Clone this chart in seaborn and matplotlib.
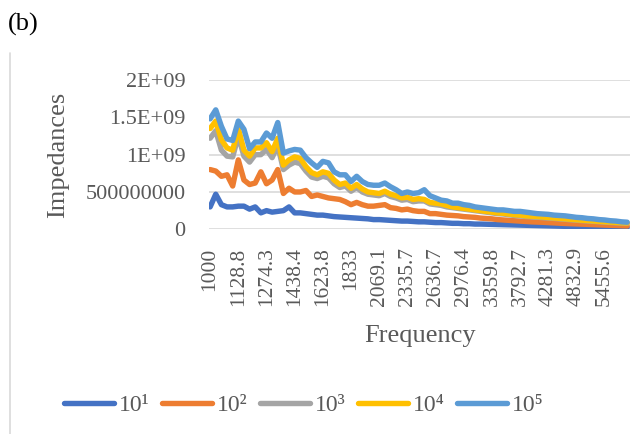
import numpy as np
import pandas as pd
import matplotlib
matplotlib.use("Agg")
import matplotlib.pyplot as plt
from matplotlib.lines import Line2D
import seaborn as sns

# ---- data ----
frequencies = [1000, 1024.5, 1049.7, 1075.4, 1101.8, 1128.8, 1156.5, 1184.9, 1214, 1243.8,
               1274.3, 1305.5, 1337.6, 1370.4, 1404, 1438.4, 1473.7, 1509.9, 1546.9, 1584.9,
               1623.8, 1663.6, 1704.4, 1746.3, 1789.1, 1833, 1878, 1924, 1971.2, 2019.6,
               2069.1, 2119.9, 2171.9, 2225.2, 2279.8, 2335.7, 2393, 2451.7, 2511.9, 2573.5,
               2636.7, 2701.3, 2767.6, 2835.5, 2905.1, 2976.4, 3049.4, 3124.2, 3200.9, 3279.4,
               3359.8, 3442.3, 3526.7, 3613.2, 3701.9, 3792.7, 3885.7, 3981.1, 4078.7, 4178.8,
               4281.3, 4386.4, 4494, 4604.3, 4717.3, 4832.9, 4951.5, 5073, 5197.5, 5325,
               5455.6, 5589.4, 5726.5, 5867, 6010.9]

# impedances in units of 1e9
z_1e1 = [0.30, 0.47, 0.33, 0.30, 0.30, 0.31, 0.31, 0.27, 0.30, 0.22,
         0.25, 0.23, 0.24, 0.25, 0.30, 0.22, 0.22, 0.21, 0.20, 0.19,
         0.19, 0.18, 0.17, 0.165, 0.16, 0.155, 0.15, 0.145, 0.14, 0.13,
         0.13, 0.125, 0.12, 0.115, 0.11, 0.11, 0.105, 0.10, 0.10, 0.095,
         0.09, 0.09, 0.085, 0.08, 0.08, 0.075, 0.075, 0.07, 0.07, 0.068,
         0.066, 0.064, 0.062, 0.06, 0.058, 0.056, 0.054, 0.052, 0.05, 0.048,
         0.046, 0.044, 0.042, 0.04, 0.038, 0.036, 0.034, 0.032, 0.031, 0.03,
         0.029, 0.028, 0.027, 0.026, 0.025]
z_1e2 = [0.80, 0.78, 0.71, 0.73, 0.58, 0.93, 0.66, 0.60, 0.62, 0.77,
         0.61, 0.66, 0.80, 0.48, 0.55, 0.50, 0.50, 0.52, 0.44, 0.46,
         0.44, 0.42, 0.41, 0.40, 0.37, 0.33, 0.36, 0.33, 0.31, 0.31,
         0.32, 0.33, 0.29, 0.28, 0.26, 0.27, 0.25, 0.24, 0.24, 0.21,
         0.21, 0.20, 0.19, 0.185, 0.18, 0.17, 0.165, 0.16, 0.15, 0.145,
         0.14, 0.13, 0.125, 0.12, 0.115, 0.11, 0.105, 0.10, 0.097, 0.094,
         0.09, 0.086, 0.082, 0.078, 0.075, 0.072, 0.069, 0.066, 0.063, 0.06,
         0.057, 0.054, 0.051, 0.048, 0.045]
z_1e3 = [1.22, 1.32, 1.06, 0.98, 0.97, 1.25, 0.98, 0.90, 1.00, 1.00,
         1.07, 0.96, 1.12, 0.80, 0.86, 0.90, 0.88, 0.78, 0.70, 0.68,
         0.71, 0.69, 0.61, 0.56, 0.58, 0.51, 0.56, 0.50, 0.47, 0.46,
         0.45, 0.48, 0.44, 0.42, 0.39, 0.40, 0.37, 0.38, 0.38, 0.34,
         0.33, 0.32, 0.30, 0.29, 0.28, 0.27, 0.26, 0.25, 0.24, 0.23,
         0.22, 0.21, 0.205, 0.195, 0.185, 0.18, 0.172, 0.167, 0.162, 0.157,
         0.151, 0.146, 0.140, 0.134, 0.128, 0.122, 0.117, 0.112, 0.107, 0.102,
         0.097, 0.092, 0.088, 0.084, 0.080]
z_1e4 = [1.35, 1.45, 1.20, 1.09, 1.06, 1.35, 1.06, 0.98, 1.09, 1.09,
         1.16, 1.04, 1.22, 0.86, 0.93, 0.97, 0.95, 0.84, 0.76, 0.73,
         0.77, 0.75, 0.66, 0.60, 0.62, 0.55, 0.60, 0.54, 0.50, 0.49,
         0.48, 0.51, 0.47, 0.45, 0.42, 0.43, 0.40, 0.41, 0.40, 0.36,
         0.35, 0.34, 0.32, 0.30, 0.29, 0.28, 0.27, 0.26, 0.25, 0.24,
         0.23, 0.22, 0.215, 0.205, 0.195, 0.19, 0.18, 0.175, 0.17, 0.165,
         0.158, 0.152, 0.146, 0.140, 0.134, 0.128, 0.122, 0.117, 0.112, 0.107,
         0.102, 0.097, 0.092, 0.088, 0.084]
z_1e5 = [1.48, 1.60, 1.38, 1.21, 1.19, 1.45, 1.34, 1.08, 1.17, 1.17,
         1.29, 1.22, 1.43, 1.02, 1.05, 1.07, 1.06, 0.96, 0.89, 0.83,
         0.91, 0.89, 0.77, 0.73, 0.73, 0.64, 0.71, 0.64, 0.60, 0.59,
         0.59, 0.62, 0.57, 0.53, 0.48, 0.50, 0.48, 0.49, 0.53, 0.45,
         0.42, 0.39, 0.38, 0.35, 0.35, 0.33, 0.32, 0.30, 0.29, 0.28,
         0.27, 0.26, 0.26, 0.25, 0.24, 0.24, 0.23, 0.22, 0.21, 0.205,
         0.20, 0.19, 0.185, 0.18, 0.17, 0.16, 0.155, 0.145, 0.14, 0.13,
         0.125, 0.115, 0.11, 0.10, 0.095]

series_names = ["10\u00b9", "10\u00b2", "10\u00b3", "10\u2074", "10\u2075"]
series_values = [z_1e1, z_1e2, z_1e3, z_1e4, z_1e5]
colors = ["#4472C4", "#ED7D31", "#A5A5A5", "#FFC000", "#5B9BD5"]

y_ticks = [0, 5e8, 1e9, 1.5e9, 2e9]
y_tick_labels = ["0", "500000000", "1E+09", "1.5E+09", "2E+09"]
label_every = 5

def fmt_freq(f):
    s = f"{f:.1f}"
    return s[:-2] if s.endswith(".0") else s

rows = []
for name, vals in zip(series_names, series_values):
    for i, (f, v) in enumerate(zip(frequencies, vals)):
        rows.append({"pos": i, "Frequency": f, "Impedance": v * 1e9, "series": name})
df = pd.DataFrame(rows)

# ---- figure ----
sns.set_theme(style="white")
plt.rcParams["font.family"] = ["Liberation Serif", "DejaVu Serif"]

W, H = 637, 434
fig = plt.figure(figsize=(W / 100, H / 100), dpi=100)
ax = fig.add_axes([209 / W, 1 - 229.3 / H, (630 - 209) / W, (229.3 - 80) / H])

sns.lineplot(data=df, x="pos", y="Impedance", hue="series", hue_order=series_names,
             palette=colors, linewidth=3.9, legend=False, sort=False, ax=ax,
             solid_joinstyle="round", solid_capstyle="round")

ax.set_ylim(0, 2e9)
ax.set_xlim(-0.2, len(frequencies) - 0.5)
ax.set_yticks(y_ticks)
ax.set_yticklabels(y_tick_labels)
xt = list(range(0, len(frequencies), label_every))
ax.set_xticks(xt)
ax.set_xticklabels([fmt_freq(frequencies[i]) for i in xt], rotation=90)
ax.tick_params(axis="y", length=0, pad=17, labelsize=16, labelcolor="#595959")
ax.tick_params(axis="x", length=0, pad=13, labelsize=15.5, labelcolor="#595959")
ax.set_xlabel("")
ax.set_ylabel("")
for sp in ax.spines.values():
    sp.set_visible(False)
ax.grid(axis="y", color="#D9D9D9", linewidth=1.2)
ax.grid(axis="x", visible=False)
ax.set_axisbelow(True)

fig.text(58 / W, 1 - 155 / H, "Impedances", rotation=90, ha="center", va="center",
         fontsize=19, color="#595959")
fig.text(420 / W, 1 - 336 / H, "Frequency", ha="center", va="center",
         fontsize=19, color="#595959")
fig.text(8 / W, 1 - 24 / H, "(b)", ha="left", va="center", fontsize=19, color="black")

fig.add_artist(Line2D([9.5 / W, 9.5 / W], [0, 1 - 53 / H], transform=fig.transFigure,
                      color="#D9D9D9", linewidth=1.2))

handles = [Line2D([0], [0], color=c, linewidth=3.9, solid_capstyle="round") for c in colors]
fig.legend(handles, series_names, loc="center", bbox_to_anchor=(0.477, 1 - 405 / H),
           ncol=5, frameon=False, fontsize=17, handlelength=2.1, handletextpad=0.2,
           columnspacing=0.55, labelcolor="#595959")

fig.savefig("out.png", dpi=100)
